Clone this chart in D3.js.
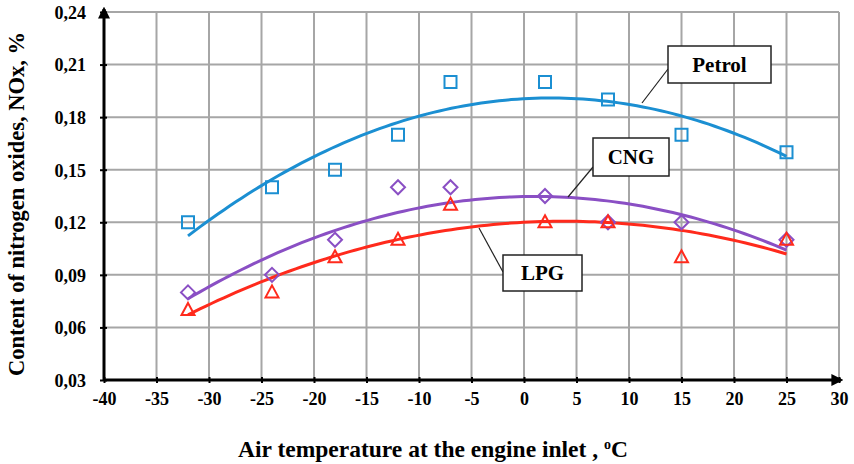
<!DOCTYPE html>
<html><head><meta charset="utf-8">
<script src="https://cdn.jsdelivr.net/npm/d3@7/dist/d3.min.js"></script>
<style>
html,body{margin:0;padding:0;background:#fff;}
svg{display:block;font-family:"Liberation Serif","Times New Roman",serif;font-weight:bold;}
</style></head>
<body><svg id="c" width="854" height="464"></svg>
<script>
const temperatures = [-32, -24, -18, -12, -7, 2, 8, 15, 25];
const petrol = [0.12, 0.14, 0.15, 0.17, 0.20, 0.20, 0.19, 0.17, 0.16];
const cng    = [0.08, 0.09, 0.11, 0.14, 0.14, 0.135, 0.12, 0.12, 0.11];
const lpg    = [0.07, 0.08, 0.10, 0.11, 0.13, 0.12, 0.12, 0.10, 0.11];
const xTicks = [-40,-35,-30,-25,-20,-15,-10,-5,0,5,10,15,20,25,30];
const yTicks = [0.03,0.06,0.09,0.12,0.15,0.18,0.21,0.24];
const seriesNames = ["Petrol","CNG","LPG"];

const svg = d3.select("#c");
const x = d3.scaleLinear().domain([-40,30]).range([104,839]);
const y = d3.scaleLinear().domain([0.03,0.24]).range([380,12]);

// grid
const g = svg.append("g");
g.selectAll(".vg").data(xTicks.slice(1)).join("line")
  .attr("x1",d=>x(d)).attr("x2",d=>x(d)).attr("y1",y(0.24)).attr("y2",y(0.03))
  .attr("stroke","#a6a6a6").attr("stroke-width",2);
g.selectAll(".hg").data(yTicks.slice(1)).join("line")
  .attr("x1",x(-40)).attr("x2",x(30)).attr("y1",d=>y(d)).attr("y2",d=>y(d))
  .attr("stroke","#a6a6a6").attr("stroke-width",2);

// axes
const defs = svg.append("defs");
defs.append("marker").attr("id","arr").attr("viewBox","0 0 10 10").attr("refX",8).attr("refY",5)
  .attr("markerWidth",4).attr("markerHeight",4).attr("orient","auto")
  .append("path").attr("d","M0,0 L10,5 L0,10 z").attr("fill","#000");

const xAxis = d3.axisBottom(x).tickValues(xTicks).tickSize(4).tickSizeOuter(0).tickFormat(d=>String(d));
const xg = svg.append("g").attr("transform",`translate(0,${y(0.03)})`).call(xAxis);
xg.select(".domain").remove();
xg.selectAll(".tick line").attr("stroke","#000").attr("stroke-width",2).attr("y1",-3).attr("y2",3);
xg.selectAll(".tick text")
  .style("font-family","'Liberation Serif', serif").style("font-weight","bold").style("font-size","18px")
  .attr("fill","#000").attr("y",19).attr("dy","0.35em");

const yAxis = d3.axisLeft(y).tickValues(yTicks).tickSize(4).tickSizeOuter(0).tickFormat(d=>d3.format(".2f")(d).replace(".",","));
const yg = svg.append("g").attr("transform",`translate(${x(-40)},0)`).call(yAxis);
yg.select(".domain").remove();
yg.selectAll(".tick line").attr("stroke","#000").attr("stroke-width",2).attr("x1",-4).attr("x2",3);
yg.selectAll(".tick text")
  .style("font-family","'Liberation Serif', serif").style("font-weight","bold").style("font-size","18px")
  .attr("fill","#000").attr("x",-18).attr("dy","0.35em");

svg.append("line").attr("x1",x(-40)).attr("x2",x(30)+2).attr("y1",y(0.03)).attr("y2",y(0.03))
  .attr("stroke","#000").attr("stroke-width",3).attr("marker-end","url(#arr)");
svg.append("line").attr("x1",x(-40)).attr("x2",x(-40)).attr("y1",y(0.03)+1).attr("y2",y(0.24)-3)
  .attr("stroke","#000").attr("stroke-width",3).attr("marker-end","url(#arr)");

// quadratic least squares fit (trendline computed from the data)
function quadFit(xs, ys){
  let S=[0,0,0,0,0], T=[0,0,0];
  xs.forEach((xv,i)=>{ for(let k=0;k<5;k++) S[k]+=Math.pow(xv,k); for(let k=0;k<3;k++) T[k]+=ys[i]*Math.pow(xv,k); });
  const A=[[S[0],S[1],S[2],T[0]],[S[1],S[2],S[3],T[1]],[S[2],S[3],S[4],T[2]]];
  for(let i=0;i<3;i++){ for(let j=i+1;j<3;j++){ const f=A[j][i]/A[i][i]; for(let k=i;k<4;k++) A[j][k]-=f*A[i][k]; } }
  const c=[0,0,0];
  for(let i=2;i>=0;i--){ let s=A[i][3]; for(let k=i+1;k<3;k++) s-=A[i][k]*c[k]; c[i]=s/A[i][i]; }
  return xv=>c[0]+c[1]*xv+c[2]*xv*xv;
}

const series = [
  {name:seriesNames[0], vals:petrol, color:"#1b8fd2", shape:"square"},
  {name:seriesNames[1], vals:cng, color:"#8a4fc4", shape:"diamond"},
  {name:seriesNames[2], vals:lpg, color:"#ff2a1c", shape:"triangle"}
];
const line = d3.line().x(d=>x(d[0])).y(d=>y(d[1])).curve(d3.curveLinear);
const xmin=d3.min(temperatures), xmax=d3.max(temperatures);

series.forEach(s=>{
  const f = quadFit(temperatures, s.vals);
  const pts = d3.range(0,101).map(i=>{const xv=xmin+(xmax-xmin)*i/100; return [xv,f(xv)];});
  svg.append("path").datum(pts).attr("d",line).attr("fill","none").attr("stroke",s.color).attr("stroke-width",3);
});
series.forEach(s=>{
  const gg = svg.append("g");
  temperatures.forEach((t,i)=>{
    const cx=x(t), cy=y(s.vals[i]);
    let p;
    if(s.shape==="square") p=`M${cx-6},${cy-6}h12v12h-12z`;
    else if(s.shape==="diamond") p=`M${cx},${cy-7}L${cx+7},${cy}L${cx},${cy+7}L${cx-7},${cy}z`;
    else p=`M${cx},${cy-7}L${cx+6.5},${cy+5}L${cx-6.5},${cy+5}z`;
    gg.append("path").attr("d",p).attr("fill","none").attr("stroke",s.color).attr("stroke-width",2);
  });
});

// labels with leaders
const labels = [
  {text:seriesNames[0], bx:668, by:46, bw:103, bh:37, lx1:668, ly1:69, lx2:642, ly2:103},
  {text:seriesNames[1], bx:593, by:138, bw:76, bh:38, lx1:593, ly1:167, lx2:568, ly2:197},
  {text:seriesNames[2], bx:503, by:255, bw:79, bh:36, lx1:503, ly1:272, lx2:479, ly2:228}
];
labels.forEach(l=>{
  svg.append("line").attr("x1",l.lx1).attr("y1",l.ly1).attr("x2",l.lx2).attr("y2",l.ly2).attr("stroke","#222").attr("stroke-width",1.2);
  svg.append("rect").attr("x",l.bx).attr("y",l.by).attr("width",l.bw).attr("height",l.bh)
    .attr("fill","#fff").attr("stroke","#222").attr("stroke-width",1.5);
  svg.append("text").attr("x",l.bx+l.bw/2).attr("y",l.by+l.bh/2).attr("dy","0.35em").attr("text-anchor","middle")
    .attr("font-size",21).attr("fill","#000").text(l.text);
});

// axis titles
const xt = svg.append("text").attr("x",433).attr("y",457).attr("text-anchor","middle").attr("font-size",23.5).attr("fill","#000");
xt.append("tspan").text("Air temperature at the engine inlet , ");
xt.append("tspan").attr("font-size",14).attr("dy",-8).text("o");
xt.append("tspan").attr("dy",8).text("C");

svg.append("text").attr("transform","translate(24,204) rotate(-90)").attr("text-anchor","middle")
  .attr("font-size",22.5).attr("fill","#000").text("Content of nitrogen oxides, NOx, %");
</script></body></html>
